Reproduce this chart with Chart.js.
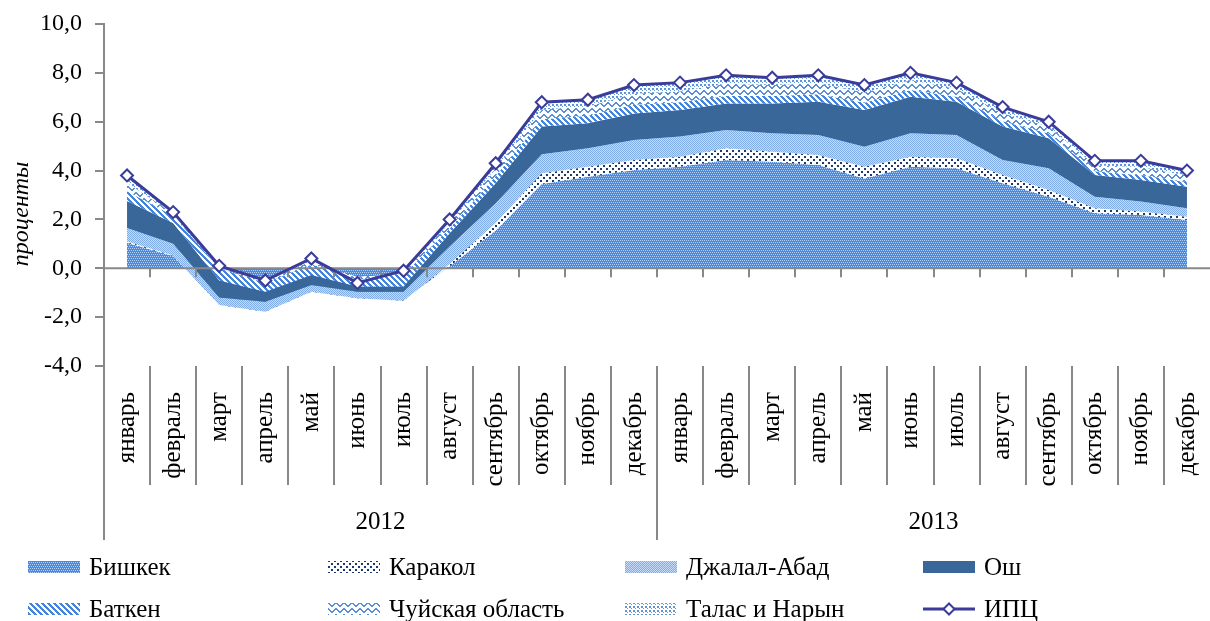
<!DOCTYPE html>
<html><head><meta charset="utf-8">
<script src="https://cdn.jsdelivr.net/npm/chart.js@4.4.1/dist/chart.umd.min.js"></script>
<style>
html,body{margin:0;padding:0;background:#fff;overflow:hidden;width:1210px;height:621px;}
#wrap{position:relative;width:1218px;height:621px;}
#legend{position:absolute;left:0;top:0;width:1210px;height:621px;pointer-events:none;font-family:'Liberation Serif',serif;font-size:25px;color:#000;}
.item{position:absolute;display:flex;align-items:center;height:30px;white-space:nowrap;}
.item canvas{margin-right:9px;display:block;}
</style></head><body>
<div id="wrap"><canvas id="c" width="1218" height="621"></canvas><div id="legend"></div></div>
<script>
// ---- data ----
const years = ['2012', '2013'];
const months = ['январь','февраль','март','апрель','май','июнь','июль','август','сентябрь','октябрь','ноябрь','декабрь'];
const yTitle = 'проценты';
const yTicks = [-4, -2, 0, 2, 4, 6, 8, 10];

const bishkek    = [1.05, 0.50, -1.45, -1.70, -0.90, -1.18, -1.28, 0.08, 1.55, 3.45, 3.75, 4.02, 4.16, 4.43, 4.36, 4.23, 3.68, 4.16, 4.09, 3.48, 2.93, 2.25, 2.18, 1.98];
const karakol    = [0.05, 0.02, -0.05, -0.08, -0.06, -0.05, -0.05, 0.10, 0.30, 0.44, 0.41, 0.41, 0.41, 0.48, 0.41, 0.41, 0.48, 0.41, 0.41, 0.34, 0.27, 0.21, 0.14, 0.13];
const jalalAbad  = [0.55, 0.48, 0.30, 0.41, 0.28, 0.27, 0.37, 0.71, 0.81, 0.78, 0.75, 0.82, 0.82, 0.75, 0.76, 0.82, 0.82, 0.96, 0.96, 0.61, 0.89, 0.47, 0.41, 0.35];
const osh        = [1.10, 0.85, 0.70, 0.41, 0.41, 0.21, 0.21, 0.54, 0.82, 1.13, 1.03, 1.09, 1.09, 1.09, 1.22, 1.36, 1.50, 1.49, 1.36, 1.37, 1.23, 0.89, 0.88, 0.88];
const batken     = [0.40, 0.30, 0.50, 0.36, 0.42, 0.40, 0.50, 0.20, 0.30, 0.30, 0.30, 0.35, 0.32, 0.30, 0.30, 0.30, 0.30, 0.28, 0.20, 0.22, 0.20, 0.15, 0.20, 0.18];
const chui       = [0.35, 0.10, 0.05, 0.06, 0.15, -0.15, 0.10, 0.22, 0.30, 0.40, 0.38, 0.45, 0.45, 0.50, 0.45, 0.45, 0.42, 0.40, 0.33, 0.33, 0.28, 0.25, 0.34, 0.28];
const talasNaryn = [0.30, 0.05, 0.05, 0.04, 0.10, -0.10, 0.05, 0.15, 0.22, 0.30, 0.28, 0.36, 0.35, 0.35, 0.30, 0.33, 0.30, 0.30, 0.25, 0.25, 0.20, 0.18, 0.25, 0.20];
const cpi        = [3.8, 2.3, 0.1, -0.5, 0.4, -0.6, -0.1, 2.0, 4.3, 6.8, 6.9, 7.5, 7.6, 7.9, 7.8, 7.9, 7.5, 8.0, 7.6, 6.6, 6.0, 4.4, 4.4, 4.0];

const seriesNames = ['Бишкек', 'Каракол', 'Джалал-Абад', 'Ош', 'Баткен', 'Чуйская область', 'Талас и Нарын'];
const seriesValues = [bishkek, karakol, jalalAbad, osh, batken, chui, talasNaryn];
const cpiName = 'ИПЦ';

// ---- styles ----
const FONT = "'Liberation Serif', 'Times New Roman', serif";
const axisGray = '#888888';
const cpiColor = '#3B3B99';

function tile(w, h, draw) {
  const c = document.createElement('canvas'); c.width = w; c.height = h;
  const g = c.getContext('2d'); draw(g); return c;
}
const tiles = [
  // Бишкек: blue with light dots
  tile(4, 4, g => { g.fillStyle = '#4D8ADB'; g.fillRect(0,0,4,4); g.fillStyle = '#B4D0F3';
    g.fillRect(0,0,1,1); g.fillRect(2,0,1,1); g.fillRect(1,2,1,1); g.fillRect(3,2,1,1); }),
  // Каракол: white with navy squares
  tile(6, 6, g => { g.fillStyle = '#fff'; g.fillRect(0,0,6,6); g.fillStyle = '#1F3B6E'; g.fillRect(0,0,2,2); g.fillRect(3,3,2,2); }),
  // Джалал-Абад: light blue fine checker
  tile(2, 2, g => { g.fillStyle = '#C6DBF7'; g.fillRect(0,0,2,2); g.fillStyle = '#80ACE7'; g.fillRect(0,0,1,1); g.fillRect(1,1,1,1); }),
  null,
  // Баткен: diagonal stripes
  tile(6, 6, g => { g.fillStyle = '#fff'; g.fillRect(0,0,6,6); g.fillStyle = '#4584DA';
    for (let yy = 0; yy < 6; yy++) for (let xx = 0; xx < 6; xx++) if ((((xx - yy) % 6) + 6) % 6 < 3) g.fillRect(xx, yy, 1, 1); }),
  // Чуйская: zigzag
  tile(8, 6, g => { g.fillStyle = '#fff'; g.fillRect(0,0,8,6); g.fillStyle = '#5A8FD8';
    const zz = [0,1,2,3,3,2,1,0]; for (let xx = 0; xx < 8; xx++) { g.fillRect(xx, zz[xx], 1, 2); } }),
  // Талас и Нарын: dots
  tile(4, 4, g => { g.fillStyle = '#fff'; g.fillRect(0,0,4,4); g.fillStyle = '#5F93DA'; g.fillRect(0,0,2,2); g.fillRect(2,2,1,1); })
];
const solidOsh = '#3A6799';
function fillFor(ctx, k) { return tiles[k] ? ctx.createPattern(tiles[k], 'repeat') : solidOsh; }

// ---- build ----
const labels = years.flatMap(() => months);
const canvas = document.getElementById('c');
const ctx = canvas.getContext('2d');

let acc = new Array(labels.length).fill(0);
const cumulative = seriesValues.map(arr => { acc = acc.map((a, i) => a + arr[i]); return acc.slice(); });

const datasets = seriesValues.map((vals, k) => ({
  label: seriesNames[k],
  data: cumulative[k],
  fill: k === 0 ? 'origin' : '-1',
  backgroundColor: fillFor(ctx, k),
  borderColor: 'rgba(0,0,0,0)',
  borderWidth: 0,
  pointRadius: 0,
  pointHoverRadius: 0,
  tension: 0,
  order: 20 - k
}));
const cpiIndex = datasets.length;
datasets.push({
  label: cpiName,
  data: cpi,
  fill: false,
  borderColor: cpiColor,
  borderWidth: 3,
  pointStyle: 'rectRot',
  pointRadius: 6,
  pointBackgroundColor: '#ffffff',
  pointBorderColor: cpiColor,
  pointBorderWidth: 2,
  tension: 0,
  order: 0
});

const decor = {
  id: 'decor',
  beforeDatasetDraw(chart, args) {
    if (args.index !== cpiIndex) return;
    const {ctx, chartArea, scales: {x, y}} = chart;
    const y0 = y.getPixelForValue(0);
    ctx.save();
    ctx.strokeStyle = axisGray; ctx.lineWidth = 2;
    ctx.beginPath();
    ctx.moveTo(chartArea.left, y0); ctx.lineTo(chartArea.right, y0);
    ctx.stroke();
    ctx.beginPath();
    for (let k = 1; k < labels.length; k++) {
      const bx = Math.round((x.getPixelForTick(k - 1) + x.getPixelForTick(k)) / 2);
      ctx.moveTo(bx, y0); ctx.lineTo(bx, y0 + 9);
    }
    ctx.stroke();
    ctx.restore();
  },
  afterDraw(chart) {
    const {ctx, chartArea, scales: {x}} = chart;
    const bottom = chartArea.bottom;
    ctx.save();
    ctx.strokeStyle = axisGray; ctx.lineWidth = 2;
    ctx.beginPath();
    ctx.moveTo(chartArea.left, bottom); ctx.lineTo(chartArea.left, 540);
    for (let k = 1; k < labels.length; k++) {
      const bx = Math.round((x.getPixelForTick(k - 1) + x.getPixelForTick(k)) / 2);
      const yearEdge = (k % months.length) === 0;
      ctx.moveTo(bx, bottom); ctx.lineTo(bx, yearEdge ? 540 : 485);
    }
    ctx.stroke();
    // year labels
    ctx.fillStyle = '#000';
    ctx.font = '25px ' + FONT;
    ctx.textAlign = 'center'; ctx.textBaseline = 'middle';
    years.forEach((yr, j) => {
      const a = x.getPixelForTick(j * months.length);
      const b = x.getPixelForTick((j + 1) * months.length - 1);
      ctx.fillText(yr, (a + b) / 2, 522);
    });
    // y title
    ctx.translate(22, 214);
    ctx.rotate(-Math.PI / 2);
    ctx.font = 'italic 24px ' + FONT;
    ctx.fillText(yTitle, 0, 0);
    ctx.restore();
  }
};

Chart.defaults.font.family = FONT;
Chart.defaults.color = '#000';

new Chart(canvas, {
  type: 'line',
  data: { labels, datasets },
  options: {
    responsive: false,
    animation: false,
    devicePixelRatio: 1,
    layout: { padding: { top: 24, left: 0, right: 0, bottom: 0 } },
    plugins: { legend: { display: false }, tooltip: { enabled: false } },
    scales: {
      x: {
        type: 'category',
        offset: true,
        grid: { display: false, drawTicks: false },
        border: { display: false },
        ticks: { autoSkip: false, minRotation: 90, maxRotation: 90, padding: 26, font: { size: 25 }, color: '#000' },
        afterFit(s) { s.height = 255; s.paddingLeft = 0; s.paddingRight = 0; }
      },
      y: {
        min: -4, max: 10,
        afterBuildTicks(s) { s.ticks = yTicks.map(v => ({ value: v })); },
        grid: { display: true, drawOnChartArea: false, drawTicks: true, tickLength: 9, color: axisGray, lineWidth: 2 },
        border: { display: true, color: axisGray, width: 2 },
        ticks: { padding: 13, font: { size: 24 }, color: '#000',
          callback: v => Number(v).toFixed(1).replace('.', ',') },
        afterFit(s) { s.width = 104; s.paddingTop = 0; s.paddingBottom = 0; }
      }
    }
  },
  plugins: [decor]
});

// ---- legend (HTML) ----
const legend = document.getElementById('legend');
const colX = [28, 328, 625, 923];
const rowY = [567, 609];
const legendNames = seriesNames.concat([cpiName]);
legendNames.forEach((name, i) => {
  const item = document.createElement('div');
  item.className = 'item';
  item.style.left = colX[i % 4] + 'px';
  item.style.top = (rowY[Math.floor(i / 4)] - 15) + 'px';
  const sw = document.createElement('canvas');
  sw.width = 52; sw.height = 14;
  const g = sw.getContext('2d');
  if (i < seriesNames.length) {
    g.fillStyle = fillFor(g, i);
    g.fillRect(0, 1, 52, 12);
  } else {
    g.strokeStyle = cpiColor; g.lineWidth = 3;
    g.beginPath(); g.moveTo(0, 7); g.lineTo(52, 7); g.stroke();
    g.beginPath(); g.moveTo(26, 1.5); g.lineTo(31.5, 7); g.lineTo(26, 12.5); g.lineTo(20.5, 7); g.closePath();
    g.fillStyle = '#fff'; g.fill(); g.lineWidth = 2; g.stroke();
  }
  item.appendChild(sw);
  const t = document.createElement('span');
  t.textContent = name;
  item.appendChild(t);
  legend.appendChild(item);
});
</script>
</body></html>
